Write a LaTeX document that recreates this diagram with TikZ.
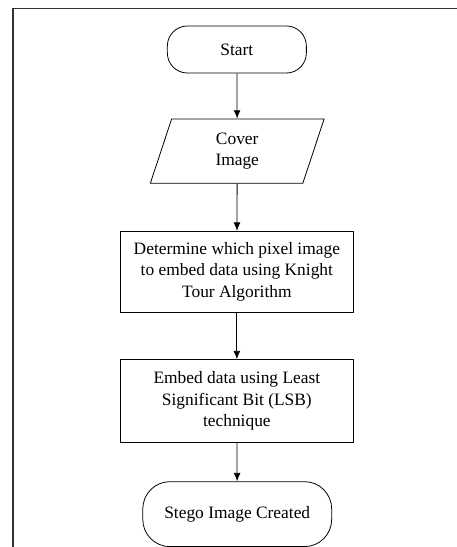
\documentclass[tikz,border=0pt]{standalone}
\usepackage{fontspec}
\setmainfont{Liberation Serif}
\usepackage{tikz}
\usetikzlibrary{
  arrows.meta,
  positioning,
  shapes.geometric
}
\definecolor{framegrey}{RGB}{50, 50, 50}

\begin{document}
\begin{tikzpicture}[
    font=\fontsize{13.1}{16.2}\selectfont,
    flowline/.style={line width=0.6pt, -{Latex[length=2.2mm, width=1.8mm]}},
    terminal/.style={draw, line width=0.6pt, align=center},
    inputbox/.style={draw, line width=0.6pt, align=center, trapezium,
      trapezium left angle=65, trapezium right angle=115,
      trapezium stretches body, minimum width=4.6cm, minimum height=1.7cm},
    processbox/.style={draw, line width=0.6pt, align=center, minimum width=6.19cm}
  ]
  \useasboundingbox (0, 0) rectangle (12.09, -14.48);
  % ---------- frame: top and left edges only ----------
  \coordinate (fr) at (12.09, -0.225);
  \coordinate (fc) at (0.344, -0.225);
  \coordinate (fb) at (0.344, -14.48);
  \draw[line width=1pt, framegrey] (fr) -- (fc) -- (fb);
  % ---------- nodes ----------
  \node[terminal, rounded corners=0.53cm, minimum width=3.68cm, minimum height=1.245cm]
    (start) at (6.27, -1.31) {Start};
  \node[inputbox] (cover) at (6.28, -4.00) {Cover\\Image};
  \node[processbox, minimum height=2.14cm] (knight) at (6.27, -7.19)
    {Determine which pixel image\\to embed data using Knight\\Tour Algorithm};
  \node[processbox, minimum height=2.2cm] (lsb) at (6.27, -10.62)
    {Embed data using Least\\Significant Bit (LSB)\\technique};
  \node[terminal, rounded corners=0.72cm, minimum width=5.0cm, minimum height=1.72cm]
    (stego) at (6.28, -13.61) {Stego Image Created};
  % ---------- connectors ----------
  \draw[flowline] (start) -- (cover);
  \draw[flowline] (cover) -- (knight);
  \draw[flowline] (knight) -- (lsb);
  \draw[flowline] (lsb) -- (stego);
\end{tikzpicture}
\end{document}
